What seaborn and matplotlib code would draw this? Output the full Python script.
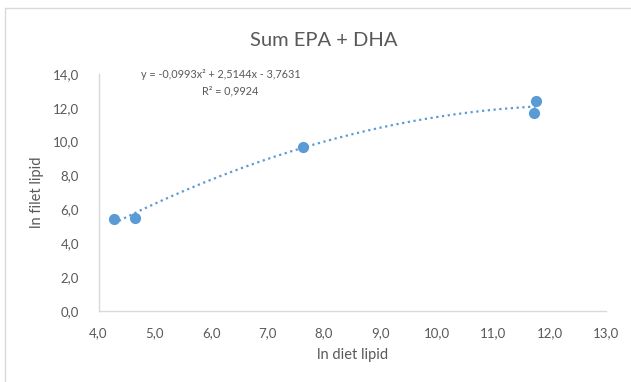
import numpy as np
import pandas as pd
import matplotlib
matplotlib.use("Agg")
import matplotlib.pyplot as plt
import matplotlib.ticker as mticker
from matplotlib.lines import Line2D
import seaborn as sns

# Measured values
diet_lipid = [4.27, 4.65, 7.62, 11.76, 11.73]
filet_lipid = [5.40, 5.51, 9.69, 12.40, 11.67]

# Polynomial trendline (order 2) coefficients: a*x^2 + b*x + c
trend_coef = [-0.0993, 2.5144, -3.7631]
r_squared = 0.9924

title = "Sum EPA + DHA"
x_label = "ln diet lipid"
y_label = "ln filet lipid"
x_ticks = [4.0, 5.0, 6.0, 7.0, 8.0, 9.0, 10.0, 11.0, 12.0, 13.0]
y_ticks = [0.0, 2.0, 4.0, 6.0, 8.0, 10.0, 12.0, 14.0]

sns.set_theme(style="white")
plt.rcParams["font.family"] = ["Lato", "DejaVu Sans"]

BLUE = "#5B9BD5"
GRAY = "#595959"
AXIS = "#D9D9D9"

fig = plt.figure(figsize=(6.31, 3.82), dpi=100)
ax = fig.add_axes([98.5 / 631, 1 - 310.7 / 382, 507.5 / 631, 236.8 / 382])

df = pd.DataFrame({"x": diet_lipid, "y": filet_lipid})

# Trendline evaluated from the fitted coefficients over the data range
xs = np.linspace(min(diet_lipid), max(diet_lipid), 200)
trend = pd.DataFrame({"x": xs, "y": np.polyval(trend_coef, xs)})
sns.lineplot(data=trend, x="x", y="y", ax=ax, color=BLUE, lw=1.6,
             linestyle=(0, (1, 1.6)), zorder=2)

sns.scatterplot(data=df, x="x", y="y", ax=ax, color=BLUE, s=65,
                edgecolor=BLUE, linewidth=0, zorder=3)

ax.set_xlim(4.0, 13.0)
ax.set_ylim(0.0, 14.0)
ax.set_xticks(x_ticks)
ax.set_yticks(y_ticks)
fmt = mticker.FuncFormatter(lambda v, p: f"{v:.1f}".replace(".", ","))
ax.xaxis.set_major_formatter(fmt)
ax.yaxis.set_major_formatter(fmt)
ax.tick_params(axis="both", colors=GRAY, labelsize=9.5, length=0)
ax.tick_params(axis="x", pad=12)
ax.tick_params(axis="y", pad=14)

for side in ["top", "right"]:
    ax.spines[side].set_visible(False)
for side in ["left", "bottom"]:
    ax.spines[side].set_color(AXIS)
    ax.spines[side].set_linewidth(1.0)

ax.set_xlabel(x_label, color=GRAY, fontsize=10.5, labelpad=6)
ax.set_ylabel(y_label, color=GRAY, fontsize=10.5, labelpad=6)

fig.text(324 / 631, 1 - 40 / 382, title, ha="center", va="center",
         color=GRAY, fontsize=14.5)

a, b, c = trend_coef
eq = (f"y = {a:.4f}x\u00b2 + {b:.4f}x - {abs(c):.4f}").replace(".", ",")
fig.text(221 / 631, 1 - 75 / 382, eq, ha="center", va="center",
         color=GRAY, fontsize=7.8)
fig.text(230 / 631, 1 - 91 / 382, f"R\u00b2 = {r_squared:.4f}".replace(".", ","),
         ha="center", va="center", color=GRAY, fontsize=7.8)

# Chart area frame (left and top edges)
fig.add_artist(Line2D([5 / 631, 5 / 631], [0, 1 - 8 / 382], transform=fig.transFigure,
                      color=AXIS, lw=1.0))
fig.add_artist(Line2D([5 / 631, 1], [1 - 8 / 382, 1 - 8 / 382], transform=fig.transFigure,
                      color=AXIS, lw=1.0))

fig.savefig("out.png", dpi=100)
